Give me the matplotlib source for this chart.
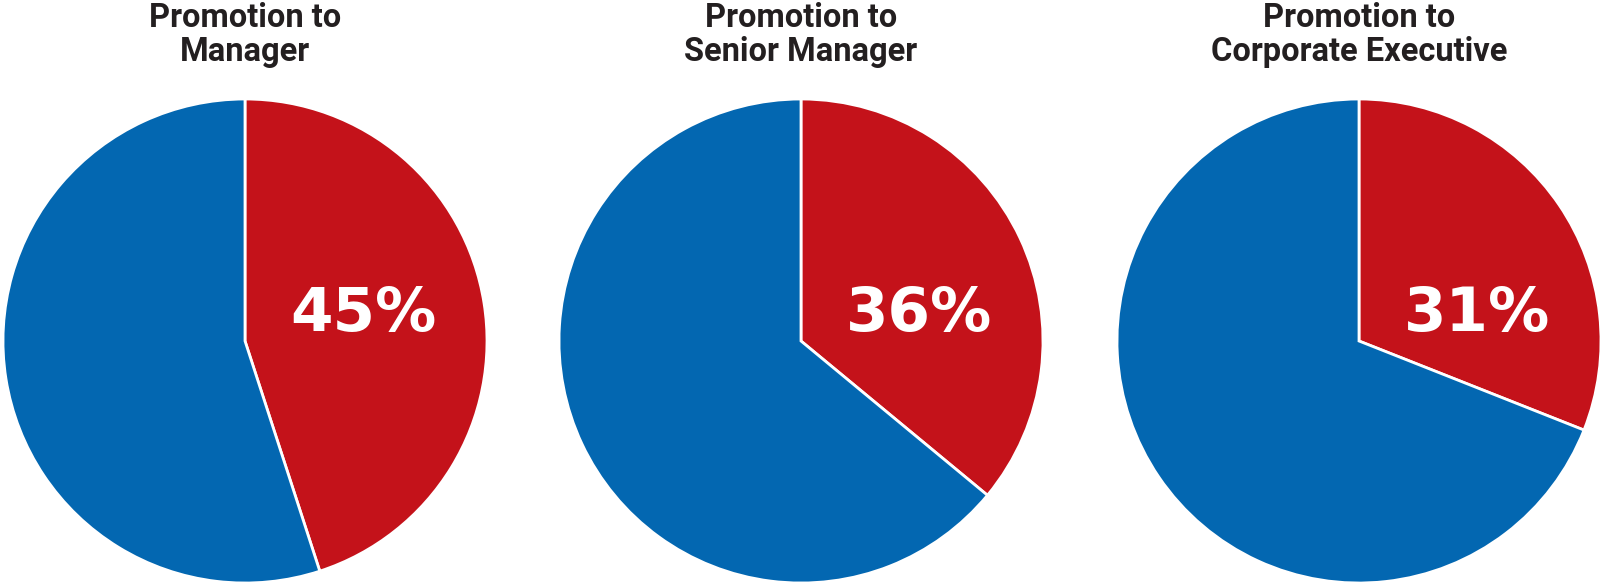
import matplotlib
matplotlib.use("Agg")
import matplotlib.pyplot as plt

# Donnees
titles = ["Promotion to\nManager", "Promotion to\nSenior Manager", "Promotion to\nCorporate Executive"]
women_pct = [45, 36, 31]

red = "#C4121A"
blue = "#0367B1"
dark = "#231F20"

W, H = 1601, 586
fig = plt.figure(figsize=(W / 100, H / 100), dpi=100)

centers_x = [245, 801, 1359]
center_y = 341
r = 242

for cx, title, pct in zip(centers_x, titles, women_pct):
    ax = fig.add_axes([(cx - r) / W, (H - center_y - r) / H, 2 * r / W, 2 * r / H])
    ax.pie([pct, 100 - pct], colors=[red, blue], startangle=90, counterclock=False,
           wedgeprops=dict(edgecolor="white", linewidth=2), radius=1)
    ax.set_xlim(-1, 1)
    ax.set_ylim(-1, 1)
    ax.set_aspect("equal")
    ax.axis("off")
    ax.text(0.49, 0.11, f"{pct}%", color="white", fontsize=44, fontweight="heavy",
            family="DejaVu Sans", ha="center", va="center")
    fig.text(cx / W, 1 - 2 / H, title, color=dark, fontsize=23.5, fontweight="bold",
             family="Roboto", ha="center", va="top", linespacing=1.1)

fig.savefig("out.png", dpi=100, facecolor="white")
